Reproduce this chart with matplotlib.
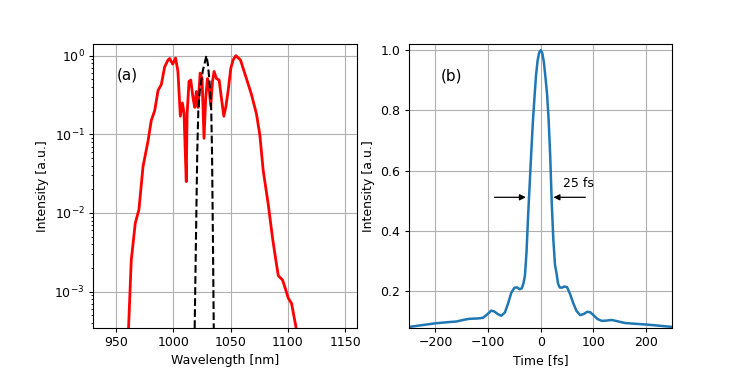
import matplotlib
matplotlib.use("Agg")
import matplotlib.pyplot as plt

# (a) measured spectrum (red), normalised
wl_spec = [960.3, 960.8, 963.1, 966.6, 969.8, 973.4, 977.7, 980.6, 983.6, 986.5,
           989.4, 992.3, 995.2, 996.7, 999.3, 1001.9, 1003.9, 1006.0, 1007.8, 1009.2,
           1010.4, 1011.2, 1011.9, 1013.6, 1015.1, 1017.1, 1018.6, 1020.0, 1021.5, 1023.3,
           1025.0, 1026.7, 1028.2, 1029.7, 1031.1, 1032.6, 1034.1, 1035.5, 1037.6, 1039.9,
           1041.9, 1044.0, 1045.7, 1047.7, 1050.1, 1052.1, 1054.5, 1056.5, 1058.6, 1060.9,
           1063.8, 1068.2, 1072.6, 1075.5, 1078.4, 1082.8, 1086.6, 1089.0, 1091.6, 1093.5,
           1095.4, 1098.0, 1100.3, 1103.2, 1107.0, 1108.0]
int_spec = [2e-4, 3.6e-4, 2.5e-3, 7.4e-3, 1.1e-2, 3.9e-2, 8.1e-2, 0.15, 0.20, 0.36,
            0.43, 0.72, 0.88, 0.92, 0.78, 0.93, 0.63, 0.17, 0.25, 0.19,
            0.055, 0.025, 0.18, 0.47, 0.49, 0.29, 0.22, 0.35, 0.22, 0.60,
            0.51, 0.089, 0.29, 0.51, 0.39, 0.23, 0.47, 0.63, 0.51, 0.49,
            0.29, 0.17, 0.22, 0.35, 0.69, 0.88, 1.0, 0.94, 0.88, 0.69,
            0.51, 0.32, 0.18, 0.098, 0.035, 0.013, 4.8e-3, 2.8e-3, 1.6e-3, 1.5e-3,
            1.4e-3, 1.07e-3, 8.3e-4, 7.1e-4, 3.6e-4, 2e-4]

# (a) narrow spectrum (black dashed)
wl_narrow = [1018.4, 1019.5, 1020.8, 1021.7, 1022.9, 1024.5, 1025.8, 1027.5, 1028.8,
             1030.2, 1031.7, 1033.0, 1033.7, 1034.6, 1035.3]
int_narrow = [2.5e-4, 3.2e-3, 0.06, 0.195, 0.35, 0.50, 0.66, 0.83, 1.0,
              0.76, 0.43, 0.21, 0.06, 3.2e-3, 2.5e-4]

# (b) temporal profile
t_fs = [-250, -225, -200, -175, -160, -145, -135, -120, -110, -102, -94, -88, -82, -75,
        -68, -62, -56, -50, -45, -40, -36, -33, -30, -27, -24, -21, -18, -15, -12, -9,
        -6, -3, 0, 3, 6, 9, 12, 15, 18, 21, 24, 27, 30, 33, 36, 40, 45, 50, 56, 62, 68,
        75, 82, 88, 94, 100, 108, 116, 125, 135, 145, 160, 175, 200, 225, 250]
int_t = [0.082, 0.088, 0.094, 0.098, 0.100, 0.106, 0.109, 0.110, 0.112, 0.123, 0.136,
         0.133, 0.125, 0.119, 0.130, 0.160, 0.195, 0.212, 0.213, 0.207, 0.210, 0.225,
         0.252, 0.33, 0.45, 0.555, 0.66, 0.76, 0.84, 0.915, 0.965, 0.992, 1.0,
         0.99, 0.96, 0.91, 0.855, 0.77, 0.65, 0.49, 0.37, 0.29, 0.26, 0.225, 0.213,
         0.212, 0.216, 0.214, 0.19, 0.16, 0.135, 0.121, 0.125, 0.132, 0.131, 0.121,
         0.108, 0.102, 0.103, 0.105, 0.101, 0.095, 0.093, 0.09, 0.086, 0.082]

# the original looks like a slightly shrunk default figure
s = 0.9
plt.rcParams.update({
    'font.size': 10 * s,
    'axes.labelpad': 4 * s,
    'xtick.major.size': 3.5 * s, 'ytick.major.size': 3.5 * s,
    'xtick.minor.size': 2 * s, 'ytick.minor.size': 2 * s,
    'xtick.major.pad': 3.5 * s, 'ytick.major.pad': 3.5 * s,
    'xtick.minor.pad': 3.4 * s, 'ytick.minor.pad': 3.4 * s,
})

fig, (ax1, ax2) = plt.subplots(1, 2, figsize=(7.47, 3.68), dpi=100)

ax1.semilogy(wl_spec, int_spec, 'r', linewidth=2)
ax1.semilogy(wl_narrow, int_narrow, 'k--', linewidth=1.5)
ax1.set_xlim(930, 1160)
ax1.set_ylim(3.5e-4, 1.4)
ax1.set_xlabel('Wavelength [nm]')
ax1.set_ylabel('Intensity [a.u.]')
ax1.text(950, 0.5, '(a)', fontsize=11)
ax1.grid()

ax2.plot(t_fs, int_t, linewidth=1.8)
ax2.set_xlim(-250, 250)
ax2.set_ylim(0.08, 1.02)
ax2.set_xlabel('Time [fs]')
ax2.set_ylabel('Intensity [a.u.]')
ax2.text(-190, 0.9, '(b)', fontsize=11)
ax2.annotate('', xy=(-23, 0.512), xytext=(-93, 0.512),
             arrowprops=dict(arrowstyle='-|>', color='k', lw=0.9))
ax2.annotate('', xy=(19, 0.512), xytext=(90, 0.512),
             arrowprops=dict(arrowstyle='-|>', color='k', lw=0.9))
ax2.text(43, 0.545, '25 fs')
ax2.grid()

plt.savefig('out.png')
